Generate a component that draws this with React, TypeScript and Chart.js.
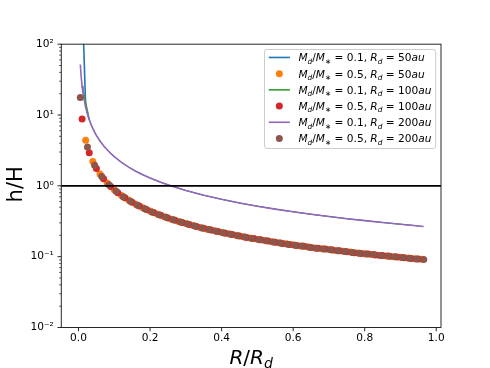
import React, { useEffect, useRef } from 'react';
import { Chart, registerables } from 'chart.js';
Chart.register(...registerables);

// ---------- data ----------
const blueX = [0, 0.02, 0.025, 0.03, 0.035, 0.04, 0.045, 0.05, 0.06, 0.07, 0.08, 0.09, 0.10, 0.12, 0.14, 0.16, 0.18, 0.20, 0.23, 0.26, 0.30, 0.35, 0.40, 0.45, 0.50, 0.55, 0.60, 0.65, 0.70, 0.75, 0.80, 0.85, 0.90, 0.96];
const blueY = [20000, 12.9, 10.3, 8.60, 7.37, 6.45, 5.73, 5.16, 4.30, 3.69, 3.23, 2.87, 2.58, 2.15, 1.84, 1.61, 1.43, 1.29, 1.12, 0.992, 0.860, 0.737, 0.645, 0.573, 0.516, 0.469, 0.430, 0.397, 0.369, 0.344, 0.323, 0.304, 0.287, 0.269];

const orangeX = [0.02, 0.04, 0.06, 0.08, 0.10, 0.12, 0.14, 0.16, 0.18, 0.20, 0.22, 0.24, 0.26, 0.28, 0.30, 0.32, 0.34, 0.36, 0.38, 0.40, 0.42, 0.44, 0.46, 0.48, 0.50, 0.52, 0.54, 0.56, 0.58, 0.60, 0.62, 0.64, 0.66, 0.68, 0.70, 0.72, 0.74, 0.76, 0.78, 0.80, 0.82, 0.84, 0.86, 0.88, 0.90, 0.92, 0.94, 0.96];
const orangeY = [4.40, 2.20, 1.467, 1.10, 0.880, 0.733, 0.629, 0.550, 0.489, 0.440, 0.400, 0.367, 0.338, 0.314, 0.293, 0.275, 0.259, 0.244, 0.232, 0.220, 0.210, 0.200, 0.191, 0.183, 0.176, 0.169, 0.163, 0.157, 0.152, 0.147, 0.142, 0.138, 0.133, 0.129, 0.126, 0.122, 0.119, 0.116, 0.113, 0.110, 0.107, 0.105, 0.102, 0.100, 0.0978, 0.0957, 0.0936, 0.0917];

const greenX = [0.01, 0.03, 0.035, 0.04, 0.045, 0.05, 0.06, 0.07, 0.08, 0.09, 0.10, 0.12, 0.14, 0.16, 0.18, 0.20, 0.23, 0.26, 0.30, 0.35, 0.40, 0.45, 0.50, 0.55, 0.60, 0.65, 0.70, 0.75, 0.80, 0.85, 0.90, 0.95];
const greenY = [25.8, 8.60, 7.37, 6.45, 5.73, 5.16, 4.30, 3.69, 3.23, 2.87, 2.58, 2.15, 1.84, 1.61, 1.43, 1.29, 1.12, 0.992, 0.860, 0.737, 0.645, 0.573, 0.516, 0.469, 0.430, 0.397, 0.369, 0.344, 0.323, 0.304, 0.287, 0.272];

const redX = [0.01, 0.03, 0.05, 0.07, 0.09, 0.11, 0.13, 0.15, 0.17, 0.19, 0.21, 0.23, 0.25, 0.27, 0.29, 0.31, 0.33, 0.35, 0.37, 0.39, 0.41, 0.43, 0.45, 0.47, 0.49, 0.51, 0.53, 0.55, 0.57, 0.59, 0.61, 0.63, 0.65, 0.67, 0.69, 0.71, 0.73, 0.75, 0.77, 0.79, 0.81, 0.83, 0.85, 0.87, 0.89, 0.91, 0.93, 0.95];
const redY = [8.80, 2.93, 1.76, 1.257, 0.978, 0.800, 0.677, 0.587, 0.518, 0.463, 0.419, 0.383, 0.352, 0.326, 0.303, 0.284, 0.267, 0.251, 0.238, 0.226, 0.215, 0.205, 0.196, 0.187, 0.180, 0.173, 0.166, 0.160, 0.154, 0.149, 0.144, 0.140, 0.135, 0.131, 0.128, 0.124, 0.121, 0.117, 0.114, 0.111, 0.109, 0.106, 0.104, 0.101, 0.0989, 0.0967, 0.0946, 0.0926];

const purpleX = [0.005, 0.0075, 0.01, 0.0125, 0.015, 0.02, 0.025, 0.03, 0.035, 0.04, 0.045, 0.05, 0.06, 0.07, 0.08, 0.09, 0.10, 0.12, 0.14, 0.16, 0.18, 0.20, 0.23, 0.26, 0.30, 0.35, 0.40, 0.45, 0.50, 0.55, 0.60, 0.65, 0.70, 0.75, 0.80, 0.85, 0.90, 0.965];
const purpleY = [51.6, 34.4, 25.8, 20.6, 17.2, 12.9, 10.3, 8.60, 7.37, 6.45, 5.73, 5.16, 4.30, 3.69, 3.23, 2.87, 2.58, 2.15, 1.84, 1.61, 1.43, 1.29, 1.12, 0.992, 0.860, 0.737, 0.645, 0.573, 0.516, 0.469, 0.430, 0.397, 0.369, 0.344, 0.323, 0.304, 0.287, 0.267];

const brownX = [0.005, 0.025, 0.045, 0.065, 0.085, 0.105, 0.125, 0.145, 0.165, 0.185, 0.205, 0.225, 0.245, 0.265, 0.285, 0.305, 0.325, 0.345, 0.365, 0.385, 0.405, 0.425, 0.445, 0.465, 0.485, 0.505, 0.525, 0.545, 0.565, 0.585, 0.605, 0.625, 0.645, 0.665, 0.685, 0.705, 0.725, 0.745, 0.765, 0.785, 0.805, 0.825, 0.845, 0.865, 0.885, 0.905, 0.925, 0.945, 0.965];
const brownY = [17.6, 3.52, 1.956, 1.354, 1.035, 0.838, 0.704, 0.607, 0.533, 0.476, 0.429, 0.391, 0.359, 0.332, 0.309, 0.289, 0.271, 0.255, 0.241, 0.229, 0.217, 0.207, 0.198, 0.189, 0.181, 0.174, 0.168, 0.161, 0.156, 0.150, 0.145, 0.141, 0.136, 0.132, 0.128, 0.125, 0.121, 0.118, 0.115, 0.112, 0.109, 0.107, 0.104, 0.102, 0.0994, 0.0972, 0.0951, 0.0931, 0.0912];

const xTicks = [0, 0.2, 0.4, 0.6, 0.8, 1.0];
const xTickLabels = ['0.0', '0.2', '0.4', '0.6', '0.8', '1.0'];
const yTicks = [0.01, 0.1, 1, 10, 100];
const yTickLabels = ['10⁻²', '10⁻¹', '10⁰', '10¹', '10²'];
const hLineValue = 1;

const legendRatios = ['0.1', '0.5', '0.1', '0.5', '0.1', '0.5'];
const legendRadii = ['50', '50', '100', '100', '200', '200'];
const legendKinds = ['line', 'dot', 'line', 'dot', 'line', 'dot'];

const BLUE = '#1f77b4';
const ORANGE = '#ff7f0e';
const GREEN = '#2ca02c';
const RED = '#d62728';
const PURPLE = '#9467bd';
const BROWN = '#8c564b';
const legendColors = [BLUE, ORANGE, GREEN, RED, PURPLE, BROWN];

const FONT = '"DejaVu Sans", sans-serif';
const TICK_SIZE = 10.6;
const DOT_R = 3.5;
const LINE_W = 1.6;

type Seg = { t: string; it?: boolean; sub?: boolean };

function drawRich(ctx: CanvasRenderingContext2D, x: number, y: number, segs: Seg[], size: number, draw = true) {
  let cx = x;
  for (const s of segs) {
    const fs = s.sub ? size * 0.7 : size;
    ctx.font = `${s.it ? 'italic ' : ''}${fs}px ${FONT}`;
    if (draw) ctx.fillText(s.t, cx, y + (s.sub ? size * 0.22 : 0));
    cx += ctx.measureText(s.t).width;
  }
  return cx - x;
}

function legendSegs(i: number): Seg[] {
  return [
    { t: 'M', it: true }, { t: 'd', it: true, sub: true }, { t: '/' }, { t: 'M', it: true }, { t: '∗', sub: true },
    { t: ' = ' + legendRatios[i] + ', ' },
    { t: 'R', it: true }, { t: 'd', it: true, sub: true }, { t: ' = ' + legendRadii[i] }, { t: 'au', it: true },
  ];
}

const decor = {
  id: 'decor',
  afterDatasetsDraw(chart: any) {
    const { ctx, chartArea: a, scales } = chart;
    const xs = scales.x;
    const ys = scales.y;
    ctx.save();
    // horizontal line
    const py = ys.getPixelForValue(hLineValue);
    ctx.strokeStyle = '#000';
    ctx.lineWidth = LINE_W;
    ctx.beginPath();
    ctx.moveTo(a.left, py);
    ctx.lineTo(a.right, py);
    ctx.stroke();
    // spines
    ctx.lineWidth = 0.85;
    ctx.strokeRect(a.left, a.top, a.right - a.left, a.bottom - a.top);
    // x ticks
    ctx.beginPath();
    for (const v of xTicks) {
      const px = xs.getPixelForValue(v);
      ctx.moveTo(px, a.bottom);
      ctx.lineTo(px, a.bottom + 3.72);
    }
    ctx.stroke();
    // y major ticks
    ctx.beginPath();
    for (const v of yTicks) {
      const p = ys.getPixelForValue(v);
      ctx.moveTo(a.left - 3.72, p);
      ctx.lineTo(a.left, p);
    }
    ctx.stroke();
    // y minor ticks
    ctx.lineWidth = 0.64;
    ctx.beginPath();
    for (let k = 0; k < yTicks.length - 1; k++) {
      for (let m = 2; m <= 9; m++) {
        const p = ys.getPixelForValue(yTicks[k] * m);
        ctx.moveTo(a.left - 2.13, p);
        ctx.lineTo(a.left, p);
      }
    }
    ctx.stroke();

    // axis titles
    ctx.fillStyle = '#000';
    ctx.textBaseline = 'alphabetic';
    ctx.textAlign = 'left';
    const xt: Seg[] = [{ t: 'R', it: true }, { t: '/' }, { t: 'R', it: true }, { t: 'd', it: true, sub: true }];
    const xw = drawRich(ctx, 0, 0, xt, 20, false);
    drawRich(ctx, (a.left + a.right) / 2 - xw / 2, 364, xt, 20);
    ctx.save();
    ctx.translate(21.5, (a.top + a.bottom) / 2 - 1.5);
    ctx.rotate(-Math.PI / 2);
    ctx.font = `21px ${FONT}`;
    ctx.textAlign = 'center';
    ctx.fillText('h/H', 0, 0);
    ctx.restore();

    // legend
    const fs = TICK_SIZE;
    ctx.textAlign = 'left';
    let maxW = 0;
    for (let i = 0; i < legendKinds.length; i++) maxW = Math.max(maxW, drawRich(ctx, 0, 0, legendSegs(i), fs, false));
    const pad = 0.4 * fs;
    const handleLen = 2.0 * fs;
    const handleGap = 0.8 * fs;
    const rowH = 16.2;
    const boxRight = a.right - 0.5 * fs;
    const boxTop = a.top + 0.5 * fs;
    const boxW = pad + handleLen + handleGap + maxW + pad;
    const boxLeft = boxRight - boxW;
    const firstBase = boxTop + 12;
    const boxBottom = firstBase + rowH * (legendKinds.length - 1) + 6;
    ctx.beginPath();
    (ctx as any).roundRect(boxLeft, boxTop, boxW, boxBottom - boxTop, 2.5);
    ctx.fillStyle = 'rgba(255,255,255,0.8)';
    ctx.fill();
    ctx.strokeStyle = '#cccccc';
    ctx.lineWidth = 1;
    ctx.stroke();
    for (let i = 0; i < legendKinds.length; i++) {
      const base = firstBase + i * rowH;
      const hy = base - 4;
      const hx0 = boxLeft + pad;
      ctx.strokeStyle = legendColors[i];
      ctx.fillStyle = legendColors[i];
      if (legendKinds[i] === 'line') {
        ctx.lineWidth = LINE_W;
        ctx.beginPath();
        ctx.moveTo(hx0, hy);
        ctx.lineTo(hx0 + handleLen, hy);
        ctx.stroke();
      } else {
        ctx.beginPath();
        ctx.arc(hx0 + handleLen / 2, hy, DOT_R, 0, Math.PI * 2);
        ctx.fill();
      }
      ctx.fillStyle = '#000';
      drawRich(ctx, hx0 + handleLen + handleGap, base, legendSegs(i), fs);
    }
    ctx.restore();
  },
};

const pts = (xs: number[], ys: number[]) => xs.map((x, i) => ({ x, y: ys[i] }));

export default function App() {
  const ref = useRef<HTMLCanvasElement>(null);
  useEffect(() => {
    const canvas = ref.current!;
    // lines lying underneath the purple curve are drawn thinner beyond their first segment,
    // so the top (purple) line covers them cleanly as in the reference
    const lineDs = (label: string, xs: number[], ys: number[], color: string, order: number, underneath: boolean) => ({
      label, data: pts(xs, ys), showLine: true, borderColor: color, backgroundColor: color,
      borderWidth: LINE_W, pointRadius: 0, pointHoverRadius: 0, order,
      segment: underneath ? { borderWidth: (c: any) => (c.p0DataIndex === 0 ? LINE_W : 0.8) } : undefined,
    });
    const dotDs = (label: string, xs: number[], ys: number[], color: string, order: number) => ({
      label, data: pts(xs, ys), showLine: false, borderColor: color, backgroundColor: color,
      pointRadius: DOT_R, pointBorderWidth: 0, pointHoverRadius: DOT_R, order,
    });
    const chart = new Chart(canvas, {
      type: 'scatter',
      data: {
        datasets: [
          lineDs('blue', blueX, blueY, BLUE, 6, true),
          dotDs('orange', orangeX, orangeY, ORANGE, 5),
          lineDs('green', greenX, greenY, GREEN, 4, true),
          dotDs('red', redX, redY, RED, 3),
          lineDs('purple', purpleX, purpleY, PURPLE, 2, false),
          dotDs('brown', brownX, brownY, BROWN, 1),
        ] as any,
      },
      options: {
        responsive: false,
        animation: false,
        events: [],
        layout: { padding: { top: 44.16, right: 49, left: 0, bottom: 0 } },
        plugins: { legend: { display: false }, tooltip: { enabled: false } },
        scales: {
          x: {
            type: 'linear',
            min: -0.04825,
            max: 1.01325,
            afterBuildTicks: (s: any) => { s.ticks = xTicks.map((v) => ({ value: v })); },
            afterFit: (s: any) => { s.height = 40.48; },
            grid: { display: false, drawTicks: false },
            border: { display: false },
            ticks: {
              autoSkip: false,
              maxRotation: 0,
              padding: 4,
              color: '#000',
              font: { family: FONT, size: TICK_SIZE },
              callback: (v: any) => { const i = xTicks.indexOf(v); return i >= 0 ? xTickLabels[i] : ''; },
            },
          },
          y: {
            type: 'logarithmic',
            min: 0.01,
            max: 100,
            afterBuildTicks: (s: any) => { s.ticks = yTicks.map((v) => ({ value: v })); },
            afterFit: (s: any) => { s.width = 61.25; },
            grid: { display: false, drawTicks: false },
            border: { display: false },
            ticks: {
              autoSkip: false,
              padding: 7.4,
              color: '#000',
              font: { family: FONT, size: TICK_SIZE },
              callback: (v: any) => { const i = yTicks.indexOf(v); return i >= 0 ? yTickLabels[i] : ''; },
            },
          },
        },
      } as any,
      plugins: [decor],
    });
    return () => chart.destroy();
  }, []);
  return (
    <div style={{ position: 'fixed', left: 0, top: 0, width: 490, height: 368, background: '#fff' }}>
      <canvas ref={ref} width={490} height={368} style={{ display: 'block' }} />
    </div>
  );
}
